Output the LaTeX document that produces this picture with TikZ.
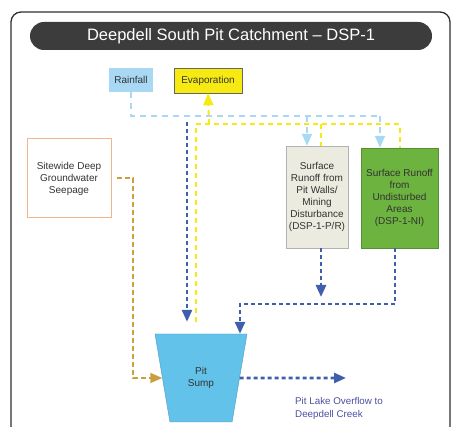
\documentclass[tikz,border=0pt]{standalone}
\usepackage{fontspec}
\setmainfont{Liberation Sans}
\usetikzlibrary{arrows.meta,shapes.geometric}
\definecolor{framegray}{HTML}{2E2E2E}
\definecolor{titlegray}{HTML}{3C3C3C}
\definecolor{rainblue}{HTML}{A8D8F4}
\definecolor{evapyellow}{HTML}{F6EA12}
\definecolor{flowblue}{HTML}{3F5EAC}
\definecolor{seepbrown}{HTML}{C9A040}
\definecolor{seepedge}{HTML}{F2B48C}
\definecolor{wallsgray}{HTML}{EBEBDF}
\definecolor{undistgreen}{HTML}{6DB33F}
\definecolor{sumpblue}{HTML}{62C2EA}
\definecolor{textblue}{HTML}{4A4FA0}

\begin{document}
\begin{tikzpicture}[x=1pt,y=-1pt,
  label_box/.style={rectangle,align=center,inner sep=1pt,font=\fontsize{10}{12}\selectfont,text=black!80},
  rain_line/.style={rainblue,line width=1.5pt,dash pattern=on 6pt off 5pt},
  evap_line/.style={evapyellow,line width=2pt,dash pattern=on 5pt off 4pt},
  flow_line/.style={flowblue,line width=2.6pt,dash pattern=on 4pt off 3pt},
  seep_line/.style={seepbrown,line width=2pt,dash pattern=on 5pt off 3pt},
  flow_tip/.style={-{Triangle[width=10pt,length=12pt]}}]
    \useasboundingbox (0,0) rectangle (453,427);
    \draw[framegray,line width=1.3pt,rounded corners=10pt] (11,12) rectangle (450,440);
    \node[fill=titlegray,rounded corners=14pt,minimum width=402pt,minimum height=28pt,text=white,font=\fontsize{16.5}{18}\selectfont] (title) at (231,36) {Deepdell South Pit Catchment – DSP-1};

    \node[label_box,fill=rainblue,minimum width=44pt,minimum height=24pt] (rain) at (131,80) {Rainfall};
    \node[label_box,fill=evapyellow,draw=black!60,minimum width=68pt,minimum height=25pt] (evap) at (208,80.5) {Evaporation};
    \node[label_box,draw=seepedge,line width=1pt,minimum width=84pt,minimum height=79pt] (seep) at (69,178.5) {Sitewide Deep\\Groundwater\\Seepage};
    \node[label_box,fill=wallsgray,draw=black!30,minimum width=62pt,minimum height=102pt] (walls) at (317,197) {Surface\\Runoff from\\Pit Walls/\\Mining\\Disturbance\\(DSP-1-P/R)};
    \node[label_box,fill=undistgreen,draw=undistgreen!80!black,minimum width=77pt,minimum height=100pt] (undist) at (399.5,198) {Surface Runoff\\from\\Undisturbed\\Areas\\(DSP-1-NI)};
    \node[trapezium,trapezium angle=55,trapezium stretches body=true,shape border rotate=180,minimum width=92pt,minimum height=88pt,inner sep=0pt,fill=sumpblue,draw=sumpblue!80!black,line width=0.4pt,align=center,text=black!80,font=\fontsize{10}{12}\selectfont] (sump) at (201,378) {Pit\\Sump};
    \node[anchor=west,align=left,text=textblue,font=\fontsize{9.8}{13}\selectfont,inner sep=0pt] (lake) at (295,408.5) {Pit Lake Overflow to\\Deepdell Creek};

    \coordinate (rj) at (380,116);
    \coordinate (ev) at (209,124);
    \coordinate (rd) at (187,122);
    \coordinate (ys) at ([xshift=-5pt,yshift=12pt]sump.90);
    \coordinate (wj) at (321,297);
    \coordinate (bj) at (240,304);
    \coordinate (out) at (346,378);

    % rainfall
    \draw[rain_line] (rain.south) |- (rj);
    \draw[rain_line,flow_tip] (rj) -- (rj |- undist.north);
    \draw[rain_line,flow_tip] ([xshift=-10pt]walls.north |- rj) -- ([xshift=-10pt]walls.north);
    % evaporation
    \draw[evap_line] (ys) |- (ev) -| (undist.north);
    \draw[evap_line] ([xshift=4pt]walls.north |- ev) -- ([xshift=4pt]walls.north);
    \draw[evap_line,flow_tip] (ev) -- (evap.south);
    % runoff to sump
    \draw[flow_line,flow_tip] (rd) -- (rd |- ys);
    \draw[flow_line,flow_tip] ([xshift=4pt]walls.south) -- (wj);
    \draw[flow_line,flow_tip] ([xshift=-4.5pt]undist.south) |- (bj) -- (bj |- sump.90);
    % seepage and overflow
    \draw[seep_line,flow_tip] ([xshift=5pt]seep.east) -| ([xshift=-29pt]sump.180) -- (sump.180);
    \draw[flow_line,flow_tip] (sump.0) -- (out);
\end{tikzpicture}
\end{document}
